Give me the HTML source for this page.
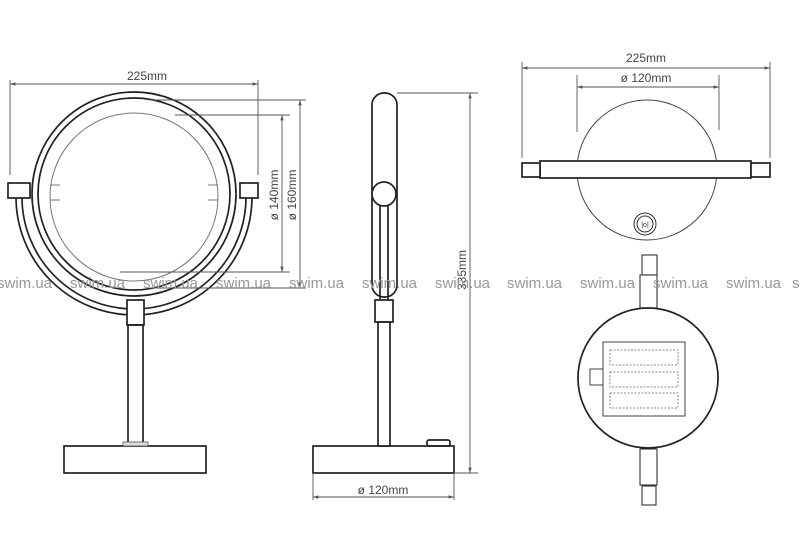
<!DOCTYPE html>
<html><head><meta charset="utf-8"><style>
html,body{margin:0;padding:0;background:#fff;}
svg{display:block;}
text{font-family:"Liberation Sans",sans-serif;}
</style></head><body>
<svg width="800" height="560" viewBox="0 0 800 560" xmlns="http://www.w3.org/2000/svg">
<defs>
<marker id="a" viewBox="0 0 8 8" refX="8" refY="4" markerWidth="6" markerHeight="6" orient="auto-start-reverse"><path d="M0,1.5 L8,4 L0,6.5z" fill="#555"/></marker>
</defs>
<g fill="none" stroke="#222" stroke-width="1.7">
<circle cx="134" cy="194" r="102"/>
<circle cx="134" cy="194" r="96"/>
<path d="M16,197 A118,118 0 0 0 252,197" />
<path d="M22,197 A112,112 0 0 0 246,197" />
<rect x="8" y="183" width="22" height="15" fill="#fff"/>
<rect x="240" y="183" width="18" height="15" fill="#fff"/>
<rect x="127" y="300" width="17" height="25" fill="#fff"/>
<rect x="128" y="325" width="15" height="119"/>
<rect x="64" y="446" width="142" height="27"/>
</g>
<circle cx="134" cy="197" r="84" fill="none" stroke="#777" stroke-width="1"/>
<line x1="50" y1="185" x2="60" y2="185" stroke="#777" stroke-width="1"/>
<line x1="208" y1="185" x2="218" y2="185" stroke="#777" stroke-width="1"/>
<line x1="50" y1="200" x2="60" y2="200" stroke="#777" stroke-width="1"/>
<line x1="208" y1="200" x2="218" y2="200" stroke="#777" stroke-width="1"/>
<rect x="123" y="442" width="25" height="4" fill="#ddd" stroke="#555" stroke-width="0.8"/>
<g stroke="#555" stroke-width="0.9" fill="none">
<line x1="10" y1="80" x2="10" y2="175"/><line x1="258" y1="80" x2="258" y2="175"/>
<line x1="10" y1="84" x2="258" y2="84" marker-start="url(#a)" marker-end="url(#a)"/>
<line x1="175" y1="115" x2="290" y2="115"/><line x1="120" y1="272" x2="290" y2="272"/>
<line x1="282" y1="115" x2="282" y2="272" marker-start="url(#a)" marker-end="url(#a)"/>
<line x1="150" y1="100" x2="306" y2="100"/><line x1="150" y1="288" x2="306" y2="288"/>
<line x1="300" y1="100" x2="300" y2="288" marker-start="url(#a)" marker-end="url(#a)"/>
</g>
<text x="147" y="80" font-size="12" fill="#444" text-anchor="middle">225mm</text>
<text transform="translate(278,195) rotate(-90)" font-size="12" fill="#444" text-anchor="middle">ø 140mm</text>
<text transform="translate(296,195) rotate(-90)" font-size="12" fill="#444" text-anchor="middle">ø 160mm</text>

<g fill="none" stroke="#222" stroke-width="1.7">
<rect x="372" y="93" width="25" height="204" rx="12"/>
<line x1="380" y1="205" x2="380" y2="303"/><line x1="388" y1="205" x2="388" y2="303"/>
<circle cx="384" cy="194" r="12" fill="#fff"/>
<rect x="375" y="300" width="18" height="22" fill="#fff"/>
<rect x="378" y="322" width="12" height="124"/>
<rect x="313" y="446" width="141" height="27"/>
<rect x="427" y="440" width="23" height="6" rx="2"/>
</g>
<g stroke="#555" stroke-width="0.9" fill="none">
<line x1="397" y1="93" x2="478" y2="93"/><line x1="454" y1="473" x2="478" y2="473"/>
<line x1="470" y1="93" x2="470" y2="473" marker-start="url(#a)" marker-end="url(#a)"/>
<line x1="313" y1="473" x2="313" y2="500"/><line x1="454" y1="473" x2="454" y2="500"/>
<line x1="313" y1="497" x2="454" y2="497" marker-start="url(#a)" marker-end="url(#a)"/>
</g>
<text transform="translate(466,270) rotate(-90)" font-size="12" fill="#444" text-anchor="middle">335mm</text>
<text x="383" y="494" font-size="12" fill="#444" text-anchor="middle">ø 120mm</text>

<circle cx="647" cy="170" r="70" fill="none" stroke="#444" stroke-width="1"/>
<g fill="#fff" stroke="#222" stroke-width="1.7">
<rect x="540" y="161" width="211" height="17"/>
<rect x="522" y="163" width="18" height="14"/>
<rect x="751" y="163" width="19" height="14"/>
</g>
<circle cx="645" cy="224" r="11" fill="none" stroke="#333" stroke-width="1"/>
<circle cx="645" cy="224" r="8" fill="none" stroke="#333" stroke-width="1"/>
<text x="645" y="227" font-size="7" fill="#333" text-anchor="middle">|o|</text>
<g stroke="#555" stroke-width="0.9" fill="none">
<line x1="522" y1="62" x2="522" y2="158"/><line x1="770" y1="62" x2="770" y2="158"/>
<line x1="522" y1="68" x2="770" y2="68" marker-start="url(#a)" marker-end="url(#a)"/>
<line x1="577" y1="75" x2="577" y2="132"/><line x1="719" y1="75" x2="719" y2="130"/>
<line x1="577" y1="87" x2="719" y2="87" marker-start="url(#a)" marker-end="url(#a)"/>
</g>
<text x="646" y="62" font-size="12" fill="#444" text-anchor="middle">225mm</text>
<text x="646" y="82" font-size="12" fill="#444" text-anchor="middle">ø 120mm</text>

<g fill="#fff" stroke="#333" stroke-width="1.1">
<rect x="642" y="255" width="15" height="20"/>
<rect x="640" y="275" width="17" height="33"/>
<rect x="640" y="449" width="17" height="36"/>
<rect x="642" y="486" width="14" height="19"/>
</g>
<circle cx="648" cy="378" r="70" fill="none" stroke="#222" stroke-width="1.7"/>
<rect x="603" y="342" width="82" height="74" fill="#fff" stroke="#444" stroke-width="1"/>
<rect x="590" y="369" width="13" height="16" fill="#fff" stroke="#444" stroke-width="1"/>
<g fill="none" stroke="#666" stroke-width="0.8" stroke-dasharray="2,1.5">
<rect x="610" y="350" width="68" height="15"/>
<rect x="610" y="372" width="68" height="15"/>
<rect x="610" y="393" width="68" height="15"/>
</g>

<g font-size="15" fill="#999">
<text x="-3" y="288">swim.ua</text>
<text x="70" y="288">swim.ua</text>
<text x="143" y="288">swim.ua</text>
<text x="216" y="288">swim.ua</text>
<text x="289" y="288">swim.ua</text>
<text x="362" y="288">swim.ua</text>
<text x="435" y="288">swim.ua</text>
<text x="507" y="288">swim.ua</text>
<text x="580" y="288">swim.ua</text>
<text x="653" y="288">swim.ua</text>
<text x="726" y="288">swim.ua</text>
<text x="792" y="288">s</text>
</g>
</svg>
</body></html>
